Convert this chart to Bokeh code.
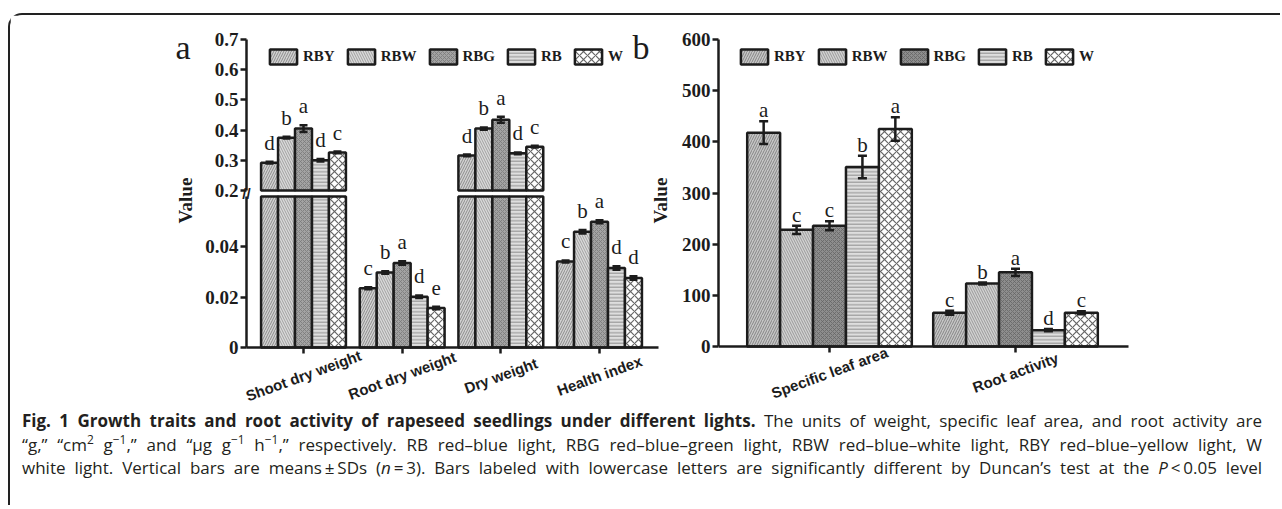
import numpy as np
from bokeh.plotting import figure
from bokeh.models import Range1d, FixedTicker, ColumnDataSource, Div, LinearAxis, Spacer
from bokeh.layouts import row, column
from bokeh.core.properties import value
from bokeh.embed import file_html
from bokeh.resources import INLINE

# ---------------- data ----------------
series = ["RBY", "RBW", "RBG", "RB", "W"]

cats_a = ["Shoot dry weight", "Root dry weight", "Dry weight", "Health index"]
rby_a = [0.292, 0.0235, 0.316, 0.0342]
rbw_a = [0.375, 0.0298, 0.405, 0.0460]
rbg_a = [0.405, 0.0336, 0.434, 0.0500]
rb_a = [0.300, 0.0202, 0.323, 0.0316]
w_a = [0.326, 0.0157, 0.345, 0.0276]
rby_a_sd = [0.003, 0.0004, 0.003, 0.0004]
rbw_a_sd = [0.003, 0.0005, 0.004, 0.0007]
rbg_a_sd = [0.011, 0.0007, 0.010, 0.0006]
rb_a_sd = [0.004, 0.0005, 0.003, 0.0007]
w_a_sd = [0.003, 0.0005, 0.003, 0.0007]
rby_a_sig = ["d", "c", "d", "c"]
rbw_a_sig = ["b", "b", "b", "b"]
rbg_a_sig = ["a", "a", "a", "a"]
rb_a_sig = ["d", "d", "d", "d"]
w_a_sig = ["c", "e", "c", "d"]
yticks_a_upper = [0.2, 0.3, 0.4, 0.5, 0.6, 0.7]
yticks_a_lower = [0, 0.02, 0.04]

cats_b = ["Specific leaf area", "Root activity"]
rby_b = [418, 66]
rbw_b = [228, 123]
rbg_b = [236, 145]
rb_b = [351, 32]
w_b = [425, 66]
rby_b_sd = [22, 4]
rbw_b_sd = [8, 2]
rbg_b_sd = [9, 7]
rb_b_sd = [22, 2]
w_b_sd = [23, 3]
rby_b_sig = ["a", "c"]
rbw_b_sig = ["c", "b"]
rbg_b_sig = ["c", "a"]
rb_b_sig = ["b", "d"]
w_b_sig = ["a", "c"]
yticks_b = [0, 100, 200, 300, 400, 500, 600]

SUP = '<sup style="font-size:70%;line-height:0;vertical-align:0.55em">'
caption_lines = [
    "<b>Fig. 1 Growth traits and root activity of rapeseed seedlings under different lights.</b> "
    "The units of weight, specific leaf area, and root activity are",
    f"\u201cg,\u201d \u201ccm{SUP}2</sup> g{SUP}\u22121</sup>,\u201d and \u201c\u03bcg g{SUP}\u22121</sup> "
    f"h{SUP}\u22121</sup>,\u201d respectively. RB red\u2013blue light, RBG red\u2013blue\u2013green light, "
    "RBW red\u2013blue\u2013white light, RBY red\u2013blue\u2013yellow light, W",
    "white light. Vertical bars are means\u2009\u00b1\u2009SDs (<i>n</i>\u2009=\u20093). Bars labeled with "
    "lowercase letters are significantly different by Duncan\u2019s test at the <i>P</i>\u2009&lt;\u20090.05 level",
]

# ---------------- styles ----------------
SERIF = "Liberation Serif"
SANS = "Liberation Sans"
INK = "#1c1c1c"
styles_a = [
    dict(fill_color="#d2d2d2", hatch_pattern="/", hatch_color="#8c8c8c", hatch_scale=5, hatch_weight=1),
    dict(fill_color="#dadada", hatch_pattern="\\", hatch_color="#a0a0a0", hatch_scale=5, hatch_weight=1),
    dict(fill_color="#a3a3a3", hatch_pattern="x", hatch_color="#7a7a7a", hatch_scale=4, hatch_weight=0.8),
    dict(fill_color="#dedede", hatch_pattern="-", hatch_color="#8f8f8f", hatch_scale=3.5, hatch_weight=1),
    dict(fill_color="#ffffff", hatch_pattern="x", hatch_color="#666666", hatch_scale=8, hatch_weight=1.2),
]
styles_b = [
    dict(fill_color="#c6c6c6", hatch_pattern="/", hatch_color="#858585", hatch_scale=5, hatch_weight=1),
    dict(fill_color="#d2d2d2", hatch_pattern="\\", hatch_color="#999999", hatch_scale=5, hatch_weight=1),
    dict(fill_color="#8e8e8e", hatch_pattern="x", hatch_color="#666666", hatch_scale=4, hatch_weight=0.8),
    dict(fill_color="#dedede", hatch_pattern="-", hatch_color="#8f8f8f", hatch_scale=3.5, hatch_weight=1),
    dict(fill_color="#ffffff", hatch_pattern="x", hatch_color="#666666", hatch_scale=8, hatch_weight=1.2),
]


def style_axis(ax):
    ax.axis_line_width = 2.5
    ax.axis_line_color = INK
    ax.major_tick_line_width = 2.5
    ax.major_tick_line_color = INK
    ax.major_tick_out = 6
    ax.major_tick_in = 0
    ax.minor_tick_line_color = None
    ax.major_label_text_font = SERIF
    ax.major_label_text_font_style = "bold"
    ax.major_label_text_font_size = "19px"
    ax.major_label_text_color = INK
    ax.major_label_standoff = 2


def hide_labels(ax):
    ax.major_label_text_font_size = "1px"
    ax.major_label_text_color = None
    ax.major_label_standoff = 0


def draw_bars(p, vals, sds, sigs, styles, w, lo, hi, rname, legend, cap, letter_off, letter_size):
    """Draw the part of every bar that falls in the axis segment [lo, hi]."""
    n = len(vals[0])
    for j, name in enumerate(series):
        v = np.array(vals[j], dtype=float)
        s = np.array(sds[j], dtype=float)
        x = np.arange(n) + (j - 2) * w
        sig = np.array(sigs[j])
        vis = v > lo
        bar = ColumnDataSource(dict(x=x[vis], top=np.minimum(v[vis], hi),
                                    bottom=np.full(vis.sum(), lo)))
        kw = dict(legend_label=name) if legend else {}
        p.vbar(x="x", top="top", bottom="bottom", width=w, source=bar, line_color=INK,
               line_width=2.5, y_range_name=rname, **styles[j], **kw)
        ins = (v + s <= hi) & (v >= lo)
        src = ColumnDataSource(dict(x=x[ins], up=(v + s)[ins], lo=(v - s)[ins], sig=list(sig[ins])))
        p.segment("x", "lo", "x", "up", source=src, line_color=INK, line_width=2.5, y_range_name=rname)
        p.scatter("x", "up", source=src, marker="dash", size=cap, line_color=INK, line_width=2.5,
                  y_range_name=rname)
        p.scatter("x", "lo", source=src, marker="dash", size=cap, line_color=INK, line_width=2.5,
                  y_range_name=rname)
        p.text("x", "up", text="sig", source=src, text_align="center", text_baseline="alphabetic",
               y_offset=-letter_off, text_font=value(SERIF), text_font_size=letter_size,
               text_color=INK, y_range_name=rname)


def style_legend(p, loc):
    leg = p.legend[0]
    leg.orientation = "horizontal"
    leg.location = loc
    leg.padding = 0
    leg.margin = 0
    leg.spacing = 9
    leg.glyph_width = 34
    leg.glyph_height = 19
    leg.label_height = 19
    leg.label_standoff = 3
    leg.label_text_font = SERIF
    leg.label_text_font_style = "bold"
    leg.label_text_font_size = "15px"
    leg.label_text_color = INK
    leg.background_fill_alpha = 0
    leg.border_line_color = None


def cat_labels(p, cats, off):
    p.text(x=list(range(len(cats))), y=[0] * len(cats), text=cats, angle=0.349, y_offset=off,
           text_align="center", text_baseline="middle", text_font=value(SANS),
           text_font_style="bold", text_font_size="15px", text_color=INK)


def free_text(p, x, y, txt, size, bold=False, angle=0.0, align="left", baseline="alphabetic",
              rname="default", font=SERIF):
    p.text(x=[x], y=[y], text=[txt], angle=angle, text_align=align, text_baseline=baseline,
           text_font=value(font), text_font_style="bold" if bold else "normal",
           text_font_size=size, text_color=INK, y_range_name=rname)


vals_a = [rby_a, rbw_a, rbg_a, rb_a, w_a]
sds_a = [rby_a_sd, rbw_a_sd, rbg_a_sd, rb_a_sd, w_a_sd]
sigs_a = [rby_a_sig, rbw_a_sig, rbg_a_sig, rb_a_sig, w_a_sig]
vals_b = [rby_b, rbw_b, rbg_b, rb_b, w_b]
sds_b = [rby_b_sd, rbw_b_sd, rbg_b_sd, rb_b_sd, w_b_sd]
sigs_b = [rby_b_sig, rbw_b_sig, rbg_b_sig, rb_b_sig, w_b_sig]

# ---------------- panel a: one frame, broken y axis (two y ranges) ----------------
wa = 0.172
XA0, XA1 = -0.578, 3.598          # extent of panel a's x axis
pa = figure(width=662, height=394, output_backend="svg", toolbar_location=None, title=None,
            x_range=Range1d(-1.956, 3.7397), y_range=Range1d(-0.021457, 0.13192),
            min_border_left=100, min_border_right=0, min_border_top=0, min_border_bottom=8)
pa.extra_y_ranges = {"up": Range1d(-0.49868, 0.77947)}
pa.outline_line_color = None
pa.grid.visible = False

draw_bars(pa, vals_a, sds_a, sigs_a, styles_a, wa, 0.0, 0.06, "default", False, 8, 19, "21px")
draw_bars(pa, vals_a, sds_a, sigs_a, styles_a, wa, 0.2, 0.7, "up", True, 8, 19, "21px")
style_legend(pa, (156, 335))

ya_low = pa.yaxis[0]
ya_up = LinearAxis(y_range_name="up")
pa.add_layout(ya_up, "left")
for ax, ticks, bnd in ((ya_low, yticks_a_lower, (0, 0.06)), (ya_up, yticks_a_upper, (0.2, 0.7))):
    style_axis(ax)
    ax.ticker = FixedTicker(ticks=ticks)
    ax.major_label_overrides = {t: ("0" if t == 0 else str(t)) for t in ticks}
    ax.bounds = bnd
    ax.fixed_location = XA0
xa = pa.xaxis[0]
style_axis(xa)
hide_labels(xa)
xa.ticker = FixedTicker(ticks=list(range(len(cats_a))))
xa.bounds = (XA0, XA1)
xa.fixed_location = 0
cat_labels(pa, cats_a, 28)

free_text(pa, -1.297, 0.6735, "a", "34px", rname="up")
free_text(pa, -1.196, 0.0584, "Value", "19px", bold=True, angle=np.pi / 2, align="center",
          baseline="middle")
free_text(pa, 3.334, 0.6735, "b", "34px", rname="up")
free_text(pa, 3.618, 0.0584, "Value", "19px", bold=True, angle=np.pi / 2, align="center",
          baseline="middle")
free_text(pa, XA0, 0.0612, "//", "15px", bold=True, align="center", baseline="middle", font=SANS)

# ---------------- panel b ----------------
wb = 0.177
XB0, XB1 = -0.5968, 1.608
pb = figure(width=608, height=394, output_backend="svg", toolbar_location=None, title=None,
            x_range=Range1d(XB0, 2.4247), y_range=Range1d(-107.49, 646.91),
            min_border_left=46, min_border_right=0, min_border_top=0, min_border_bottom=8)
pb.outline_line_color = None
pb.grid.visible = False
draw_bars(pb, vals_b, sds_b, sigs_b, styles_b, wb, 0, 600, "default", True, 9, 11, "21px")
style_legend(pb, (19, 335))
yb = pb.yaxis[0]
style_axis(yb)
yb.ticker = FixedTicker(ticks=yticks_b)
yb.bounds = (0, 600)
xb = pb.xaxis[0]
style_axis(xb)
hide_labels(xb)
xb.ticker = FixedTicker(ticks=list(range(len(cats_b))))
xb.bounds = (XB0, XB1)
xb.fixed_location = 0
cat_labels(pb, cats_b, 26)

# ---------------- caption ----------------
line_css = "text-align:justify;text-align-last:justify;white-space:nowrap;"
cap_html = ('<div style="font-family:\'Open Sans\';font-size:17px;line-height:23.5px;color:#231f20;'
            'width:1240px;margin-left:12px;padding-top:0px;">'
            + "".join(f'<div style="{line_css}">{ln}</div>' for ln in caption_lines)
            + "</div>")
caption = Div(text=cap_html, width=1264, height=96, margin=(0, 0, 0, 0))

inner = column(row(pa, pb), caption,
               styles={"border-top": "2px solid #222", "border-left": "2px solid #222",
                       "border-top-left-radius": "14px"})
page = column(Spacer(height=13), row(Spacer(width=8), inner))

open("out.html", "w").write(file_html(page, INLINE))
